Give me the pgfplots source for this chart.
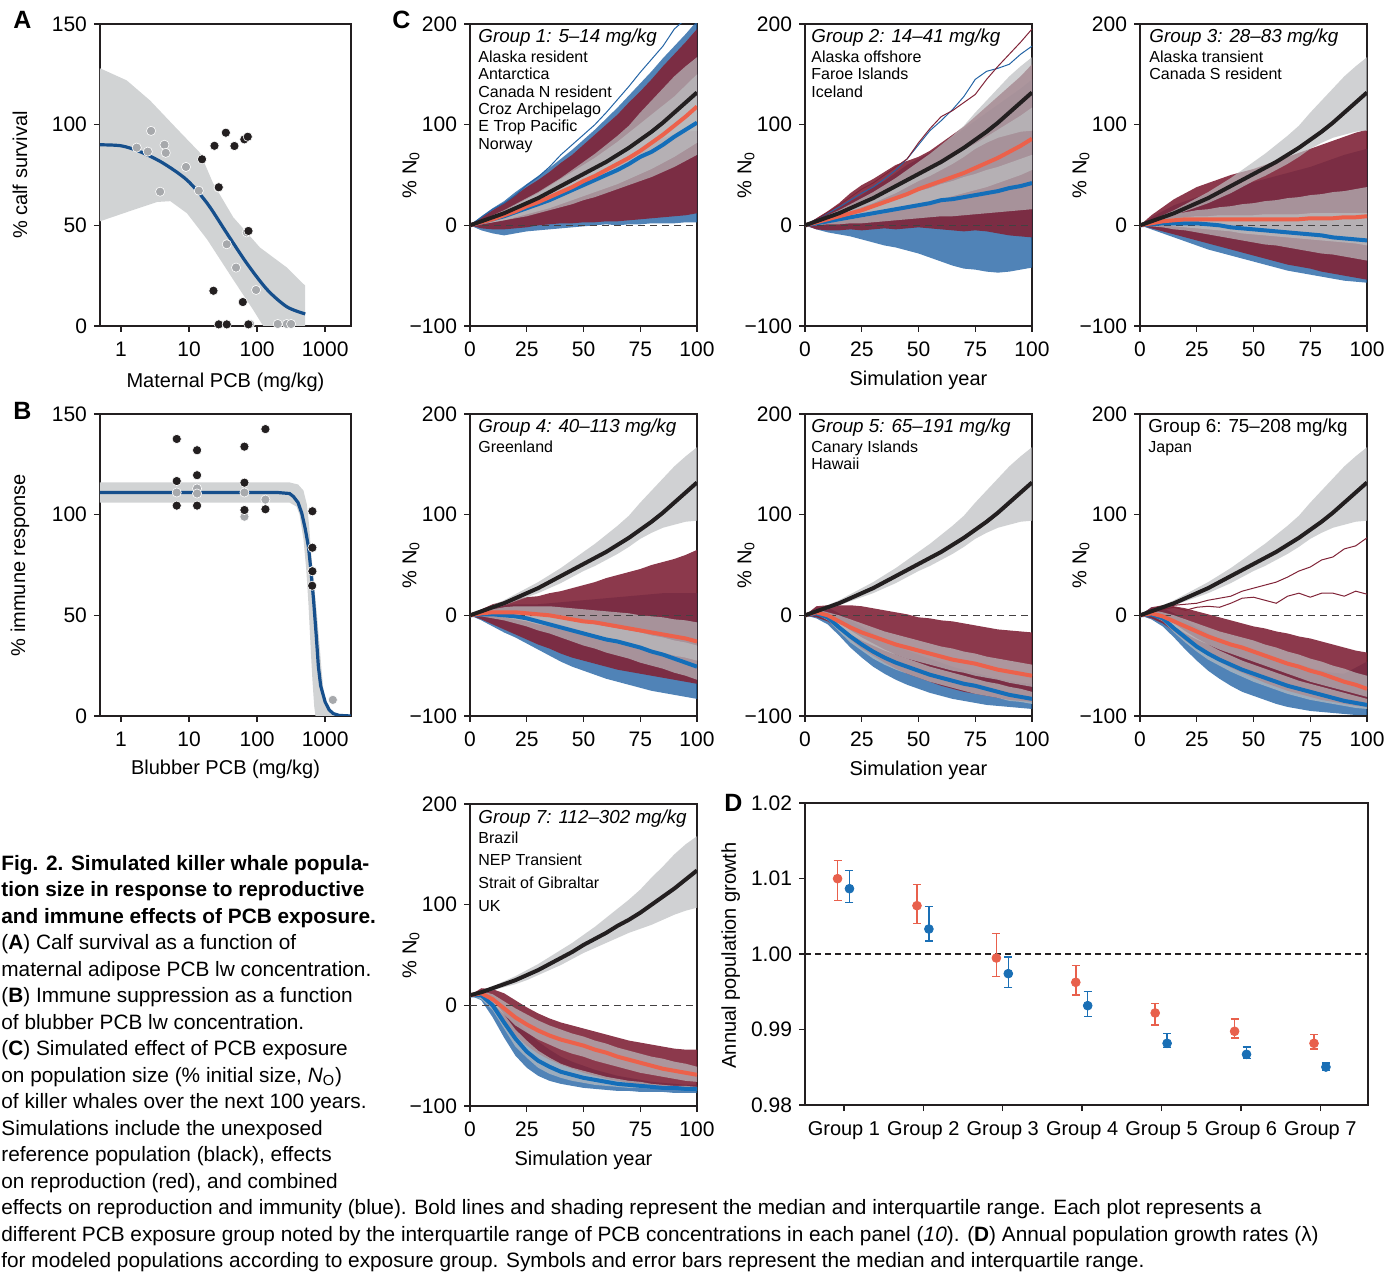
\documentclass[border=0pt]{standalone}
\usepackage{fontspec}
\setmainfont{Liberation Sans}
\usepackage{pgfplots}
\pgfplotsset{compat=1.18}
\usepackage{pgfplotstable}
\usepgfplotslibrary{fillbetween}

\definecolor{maroon}{RGB}{128,36,56}
\definecolor{thinblue}{RGB}{36,100,165}
\definecolor{medred}{RGB}{236,97,75}
\definecolor{medblue}{RGB}{20,110,185}
\definecolor{kblack}{RGB}{35,31,32}
\definecolor{bandgrey}{RGB}{209,211,212}
\definecolor{iqrgrey}{RGB}{188,190,192}
\definecolor{curveblue}{RGB}{22,79,140}
\definecolor{ptgrey}{RGB}{167,169,172}
\definecolor{dred}{RGB}{232,96,76}
\definecolor{dblue}{RGB}{26,111,181}

% reference (unexposed) population: median and IQR
\pgfplotstableread{
x km ku kl km7 ku7 kl7
0 0 0 0 10 10 10
5 4 5 3 13 14 12
10 8 10 6 17 19 15
15 12 15 10 21 24 18
20 17 21 14 25 29 21
25 22 27 18 30 35 25
30 27 33 22 35 41 30
35 33 40 27 41 48 35
40 39 47 32 47 55 40
45 45 55 38 53 62 46
50 51 63 44 60 70 52
55 57 71 49 66 78 57
60 63 80 55 72 87 62
65 70 89 61 79 96 67
70 77 99 68 85 105 72
75 85 112 76 92 115 76
80 93 124 82 100 127 80
85 102 136 87 108 138 85
90 112 148 90 116 150 90
95 122 158 93 125 160 94
100 132 167 94 134 168 97
}\refdata

\pgfplotstableread{
x bu bl ru rl biu bil riu ril bm rm oa
0 0 0 0 0 0 0 0 0 0 0 0
5 9 -5 8 -3 4 1 4 1 3 3 8
10 17 -8 15 -4 8 3 9 3 6 6 16
15 24 -10 22 -4 13 5 14 5 9 10 22
20 33 -8 30 -3 18 7 20 8 13 14 30
25 41 -6 38 -2 23 9 26 11 17 19 40
30 49 -5 45 0 29 12 32 14 21 23 48
35 57 -4 53 1 35 15 39 17 25 28 58
40 66 -3 62 2 41 18 46 21 30 33 70
45 75 -2 70 2 47 21 53 25 35 38 80
50 85 -1 80 3 53 25 60 29 40 44 90
55 95 0 90 3 59 28 67 33 45 49 100
60 106 1 100 4 66 32 75 37 50 55 112
65 117 0 110 4 73 36 83 41 55 61 125
70 129 1 122 5 80 40 92 46 61 67 138
75 141 1 133 6 88 44 101 51 68 74 152
80 153 2 145 7 96 48 110 56 73 82 165
85 166 2 158 8 104 53 119 62 80 90 178
90 178 2 170 9 113 58 128 68 88 99 195
95 190 3 182 10 122 64 139 75 95 108 205
100 203 3 195 12 132 70 150 82 102 118 210
}\gone

\pgfplotstableread{
x bu bl ru rl biu bil riu ril bm rm oa ob
0 0 0 0 0 0 0 0 0 0 0 0 0
5 6 -4 7 -4 3 0 4 1 2 3 6 6
10 12 -7 14 -5 7 1 9 3 4 6 12 13
15 18 -9 22 -5 10 1 13 4 6 9 18 20
20 24 -11 32 -4 14 2 18 6 8 12 25 28
25 30 -14 40 -5 17 2 23 8 10 15 32 36
30 38 -17 46 -4 20 3 28 10 12 19 38 42
35 44 -20 53 -3 24 4 33 12 14 23 46 50
40 52 -22 60 -4 27 5 39 15 16 27 55 58
45 60 -25 64 -3 30 6 45 17 18 31 66 66
50 66 -28 68 -2 34 7 51 20 20 36 80 82
55 72 -32 74 -3 37 8 57 23 22 40 94 96
60 80 -36 82 -4 41 9 63 26 25 44 104 108
65 88 -40 90 -5 44 9 69 29 26 48 115 114
70 96 -43 98 -6 48 10 75 32 28 52 128 122
75 104 -44 108 -5 51 11 81 35 30 57 145 130
80 112 -46 118 -6 55 12 88 38 32 62 153 145
85 120 -47 128 -8 58 13 95 42 34 67 156 158
90 128 -46 138 -10 62 14 102 46 37 73 160 170
95 136 -44 148 -11 66 15 109 50 39 79 170 182
100 145 -42 160 -12 70 16 117 55 42 86 178 195
}\gtwo

\pgfplotstableread{
x bu bl ru rl biu bil riu ril bm rm
0 0 0 0 0 0 0 0 0 0 0
5 8 -4 10 -3 3 -1 5 0 1 2
10 14 -8 18 -6 5 -2 8 0 2 4
15 20 -12 26 -9 7 -4 11 -1 2 5
20 24 -16 32 -12 8 -5 13 -2 2 6
25 28 -20 38 -15 9 -7 15 -3 2 6
30 31 -24 42 -18 9 -9 16 -4 1 6
35 34 -27 46 -21 10 -11 18 -5 0 6
40 37 -30 50 -24 10 -13 19 -6 -2 6
45 40 -33 53 -27 10 -15 21 -8 -3 6
50 43 -36 56 -30 10 -17 22 -9 -4 6
55 46 -39 60 -33 11 -19 24 -10 -5 6
60 49 -42 64 -36 11 -20 25 -11 -6 6
65 52 -45 68 -39 11 -22 27 -12 -7 6
70 55 -47 72 -41 11 -24 28 -13 -8 6
75 58 -49 76 -43 12 -26 30 -14 -9 7
80 62 -51 80 -46 12 -28 31 -15 -10 7
85 66 -53 84 -48 12 -29 33 -16 -12 7
90 70 -55 88 -50 12 -31 34 -17 -13 8
95 73 -56 92 -52 12 -33 36 -18 -14 8
100 76 -57 95 -54 12 -35 38 -20 -15 9
}\gthree

\pgfplotstableread{
x bu bl ru rl biu bil riu ril bm rm
0 0 0 0 0 0 0 0 0 0 0
5 5 -5 6 -4 2 -1 3 0 1 2
10 8 -11 11 -9 4 -3 6 0 1 3
15 10 -17 14 -14 4 -5 8 -2 0 3
20 11 -22 17 -19 4 -8 9 -4 -1 3
25 11 -28 18 -24 3 -11 9 -6 -3 2
30 11 -34 19 -29 1 -15 9 -9 -6 1
35 12 -40 22 -33 -1 -18 9 -11 -9 0
40 13 -46 24 -38 -3 -22 8 -14 -12 -2
45 14 -51 27 -42 -5 -26 7 -16 -15 -4
50 15 -55 30 -45 -7 -30 6 -19 -18 -6
55 16 -59 33 -48 -9 -33 5 -21 -21 -7
60 17 -63 37 -51 -11 -37 4 -24 -24 -9
65 18 -66 40 -54 -13 -40 3 -27 -26 -11
70 19 -69 43 -56 -15 -43 2 -30 -29 -13
75 20 -72 46 -58 -17 -47 0 -32 -32 -15
80 21 -75 50 -60 -20 -50 -1 -35 -36 -17
85 22 -77 53 -62 -22 -53 -2 -37 -39 -19
90 22 -79 56 -64 -25 -57 -4 -40 -43 -21
95 22 -81 60 -66 -27 -60 -5 -42 -47 -23
100 22 -83 65 -68 -30 -64 -7 -45 -51 -26
}\gfour

\pgfplotstableread{
x bu bl ru rl biu bil riu ril bm rm
0 0 0 0 0 0 0 0 0 0 0
5 8 -3 9 -2 4 1 6 1 2 3
10 8 -9 10 -6 1 -5 3 -3 -2 0
15 2 -20 10 -14 -7 -16 0 -11 -12 -6
20 -5 -32 10 -24 -15 -27 -4 -19 -21 -12
25 -11 -42 9 -33 -22 -35 -8 -25 -29 -17
30 -18 -51 7 -40 -28 -43 -12 -30 -36 -21
35 -24 -58 5 -47 -34 -49 -16 -35 -42 -25
40 -30 -64 3 -53 -39 -54 -19 -39 -47 -29
45 -35 -69 1 -58 -43 -58 -22 -43 -51 -32
50 -39 -73 -2 -62 -47 -62 -25 -46 -55 -35
55 -43 -77 -3 -66 -51 -66 -28 -49 -59 -38
60 -47 -80 -5 -70 -54 -69 -31 -52 -62 -41
65 -51 -83 -6 -73 -57 -72 -33 -55 -65 -44
70 -54 -85 -8 -76 -60 -75 -36 -57 -68 -46
75 -57 -87 -10 -78 -63 -78 -38 -60 -70 -48
80 -60 -89 -12 -80 -66 -80 -41 -62 -73 -51
85 -63 -90 -14 -82 -68 -82 -43 -64 -76 -54
90 -65 -91 -15 -84 -71 -85 -45 -67 -79 -56
95 -67 -92 -16 -85 -73 -86 -47 -69 -81 -58
100 -68 -93 -17 -86 -76 -88 -49 -71 -83 -60
}\gfive

\pgfplotstableread{
x bu bl ru rl biu bil riu ril bm rm oa ob
0 0 0 0 0 0 0 0 0 0 0 0 0
5 8 -4 8 -3 3 0 5 1 1 2 4 3
10 7 -11 10 -8 0 -6 3 -4 -3 -1 8 6
15 2 -22 9 -16 -8 -17 0 -11 -13 -6 10 8
20 -5 -34 7 -25 -16 -27 -4 -18 -22 -11 11 5
25 -12 -45 4 -33 -23 -36 -8 -24 -31 -16 12 8
30 -18 -55 1 -40 -29 -44 -12 -29 -38 -21 15 9
35 -24 -63 -2 -46 -35 -50 -16 -34 -44 -25 17 8
40 -29 -70 -5 -52 -40 -56 -19 -38 -49 -29 19 12
45 -33 -76 -8 -57 -45 -61 -22 -42 -54 -32 24 17
50 -37 -80 -11 -62 -49 -66 -25 -46 -58 -36 27 18
55 -40 -84 -13 -67 -53 -70 -29 -50 -62 -40 30 15
60 -43 -88 -16 -71 -57 -74 -32 -54 -66 -44 33 12
65 -46 -91 -18 -75 -61 -78 -36 -58 -70 -48 38 19
70 -49 -93 -21 -78 -65 -81 -39 -62 -73 -51 44 22
75 -52 -95 -23 -81 -68 -84 -43 -66 -76 -55 48 18
80 -55 -96 -26 -84 -71 -86 -46 -69 -79 -58 55 22
85 -57 -97 -29 -86 -74 -88 -50 -72 -82 -62 58 22
90 -58 -98 -32 -88 -77 -90 -53 -75 -85 -66 66 19
95 -52 -99 -35 -90 -80 -92 -57 -78 -87 -69 69 24
100 -46 -99 -37 -91 -83 -93 -60 -81 -89 -73 77 21
}\gsix

\pgfplotstableread{
x bu bl ru rl biu bil riu ril bm rm
0 10 10 10 10 10 10 10 10 10 10
5 15 5 17 8 12 6 14 8 10 12
10 10 -12 16 -3 6 -5 11 2 0 6
15 -2 -32 12 -18 -9 -23 4 -9 -17 -3
20 -14 -50 5 -30 -24 -41 -3 -20 -33 -12
25 -26 -62 -2 -40 -35 -52 -9 -27 -46 -19
30 -36 -70 -8 -48 -45 -62 -15 -34 -55 -25
35 -44 -75 -13 -54 -52 -68 -20 -39 -61 -30
40 -51 -78 -17 -59 -58 -72 -24 -44 -66 -34
45 -56 -80 -20 -63 -62 -75 -28 -48 -69 -37
50 -60 -82 -23 -67 -65 -77 -31 -51 -72 -40
55 -64 -83 -26 -70 -68 -79 -35 -55 -74 -44
60 -67 -84 -29 -73 -71 -80 -38 -58 -76 -47
65 -70 -85 -32 -75 -73 -81 -42 -61 -78 -51
70 -72 -85 -35 -77 -75 -82 -45 -64 -79 -54
75 -74 -86 -37 -79 -76 -82 -48 -67 -80 -57
80 -76 -86 -39 -80 -78 -83 -51 -69 -81 -60
85 -77 -86 -41 -82 -79 -83 -53 -71 -82 -63
90 -78 -87 -43 -83 -80 -84 -56 -73 -82 -65
95 -79 -87 -44 -84 -80 -84 -58 -75 -83 -67
100 -79 -87 -44 -84 -81 -85 -61 -76 -83 -69
}\gseven

% #1 table, #2-#4 reference columns, #5 extra single trajectories
\newcommand{\drawbundle}[5]{%
 \addplot[draw=none,name path=bu] table[x=x,y=bu]{#1};
 \addplot[draw=none,name path=bl] table[x=x,y=bl]{#1};
 \addplot[fill=thinblue,fill opacity=0.8,draw=none] fill between[of=bu and bl];
 \addplot[draw=none,name path=ru] table[x=x,y=ru]{#1};
 \addplot[draw=none,name path=rl] table[x=x,y=rl]{#1};
 \addplot[fill=maroon,fill opacity=0.9,draw=none] fill between[of=ru and rl];
 #5
 \addplot[draw=none,name path=biu] table[x=x,y=biu]{#1};
 \addplot[draw=none,name path=bil] table[x=x,y=bil]{#1};
 \addplot[fill=iqrgrey,fill opacity=0.7,draw=none] fill between[of=biu and bil];
 \addplot[draw=none,name path=riu] table[x=x,y=riu]{#1};
 \addplot[draw=none,name path=ril] table[x=x,y=ril]{#1};
 \addplot[fill=iqrgrey,fill opacity=0.7,draw=none] fill between[of=riu and ril];
 \addplot[draw=none,name path=ku] table[x=x,y=#3]{\refdata};
 \addplot[draw=none,name path=kl] table[x=x,y=#4]{\refdata};
 \addplot[fill=iqrgrey,fill opacity=0.7,draw=none] fill between[of=ku and kl];
 \addplot[kblack!85,line width=0.6pt,dash pattern=on 3.5pt off 2.5pt] coordinates {(0,0) (100,0)};
 \addplot[medblue,line width=2pt] table[x=x,y=bm]{#1};
 \addplot[medred,line width=2pt] table[x=x,y=rm]{#1};
 \addplot[kblack,line width=2pt] table[x=x,y=#2]{\refdata};
}

\pgfplotsset{
 every axis/.append style={
  scale only axis,
  axis line style={line width=0.65pt,kblack},
  every tick/.style={line width=0.65pt,kblack},
  major tick length=3pt,
  tick align=outside,
  xtick pos=bottom, ytick pos=left,
  tick label style={font=\fontsize{10.5}{12}\selectfont},
  xticklabel style={yshift=-1.5pt},
  label style={font=\fontsize{10}{12}\selectfont},
 },
 cpanel/.style={
  width=113.5pt, height=151pt,
  xmin=0, xmax=100, ymin=-100, ymax=200,
  xtick={0,25,50,75,100}, xticklabels={0,25,50,75,100},
  ytick={-100,0,100,200}, yticklabels={−100,0,100,200},
  ylabel={\% N\textsubscript{0}},
  ylabel style={at={(axis description cs:-0.26,0.5)},anchor=center},
  xlabel style={at={(axis description cs:0.5,-0.197)},anchor=base},
 },
}

\newcommand{\titlefont}{\fontsize{9.4}{11}\selectfont\itshape}
\newcommand{\locfont}{\fontsize{8}{9.6}\selectfont}
\newcommand{\capfont}{\fontsize{10.4}{12}\selectfont}
\newcommand{\letfont}{\fontsize{12.5}{14}\selectfont\bfseries}

\begin{document}
\begin{tikzpicture}

% ---------------- A ----------------
\begin{axis}[at={(50pt,-12pt)}, anchor=north west, width=125.5pt, height=151pt,
  xmode=log, xmin=0.49, xmax=2400, ymin=0, ymax=150,
  xtick={1,10,100,1000}, xticklabels={1,10,100,1000}, xminorticks=false,
  ytick={0,50,100,150}, yticklabels={0,50,100,150},
  xlabel={Maternal PCB (mg/kg)}, ylabel={\% calf survival},
  ylabel style={at={(axis description cs:-0.319,0.5)},anchor=center},
  xlabel style={at={(axis description cs:0.5,-0.205)},anchor=base}]
\addplot[fill=bandgrey,draw=none] coordinates {(0.49,128) (1.21,122) (2.67,112) (6.6,98) (14.5,86) (22.5,71) (44.6,54) (110,39) (275,29) (510,20) (510,0) (123,0) (87.6,8) (44.6,23) (18.4,43) (9.3,56) (5.3,62) (3.4,61.6) (1.5,57.6) (0.49,52)};
\addplot[only marks, mark=*, mark size=2.3pt, color=ptgrey, mark options={draw=white,line width=0.3pt}] coordinates {
(1.70,88.6) (2.76,96.9) (2.47,86.6) (3.75,66.7) (4.34,90) (4.54,86) (9.0,79) (13.9,67.2) (27,68.7) (35.8,40.6) (49,29) (70.4,46.5) (96.6,17.9) (201,1) (273,1) (316,1) (79,1)};
\addplot[curveblue, line width=1.6pt, smooth] coordinates {(0.49,90) (1,89.5) (1.9,86.6) (4.1,81) (9.3,72.5) (18.4,61) (36,46) (71,31) (141,18) (275,9.5) (510,6)};
\addplot[only marks, mark=*, mark size=2.3pt, color=kblack, mark options={draw=white,line width=0.3pt}] coordinates {
(23.6,89.5) (34.7,96) (46.4,89.4) (64.9,92.7) (72.9,94) (15.5,82.8) (27.3,68.9) (74.6,47.2) (22.8,17.5) (61.6,11.9) (27.3,0.8) (35.8,0.8) (74.6,0.8)};
\end{axis}

% ---------------- B ----------------
\begin{axis}[at={(50pt,-207pt)}, anchor=north west, width=125.5pt, height=151pt,
  xmode=log, xmin=0.49, xmax=2400, ymin=0, ymax=150,
  xtick={1,10,100,1000}, xticklabels={1,10,100,1000}, xminorticks=false,
  ytick={0,50,100,150}, yticklabels={0,50,100,150},
  xlabel={Blubber PCB (mg/kg)}, ylabel={\% immune response},
  ylabel style={at={(axis description cs:-0.319,0.5)},anchor=center},
  xlabel style={at={(axis description cs:0.5,-0.195)},anchor=base}]
\addplot[fill=bandgrey,draw=none] coordinates {(0.49,116) (300,116) (400,115) (480,112) (540,105) (580,95) (620,82) (680,67) (760,50) (830,35) (890,22) (950,12) (1050,5) (1300,1.5) (2400,0) (720,0) (690,5) (650,18) (610,35) (570,55) (530,72) (480,88) (420,100) (380,104) (300,106) (0.49,106)};
\addplot[only marks, mark=*, mark size=2.3pt, color=ptgrey, mark options={draw=white,line width=0.3pt}] coordinates {
(6.58,111) (13.1,113) (13.1,110.5) (65.1,111) (65.1,99) (132.5,107.5) (650,72) (1297,8)};
\addplot[curveblue, line width=1.6pt] coordinates {(0.49,111) (10,111) (100,111) (200,111) (300,110.5) (342,109) (400,106) (454,100.7) (510,93) (569,84) (620,72) (676,57.6) (740,40) (796,24.5) (860,15) (1000,7) (1150,3) (1320,1.2) (1600,0.3) (2400,0)};
\addplot[only marks, mark=*, mark size=2.3pt, color=kblack, mark options={draw=white,line width=0.3pt}] coordinates {
(6.58,137.6) (6.58,116.7) (6.58,104.5) (13.1,132) (13.1,119.6) (13.1,104.5) (65.1,133.8) (65.1,115.9) (65.1,102.3) (132.5,142.5) (132.5,102.7) (650,101.7) (650,83.6) (650,71.9) (645,64.7)};
\end{axis}

% ---------------- C panels ----------------
\begin{axis}[cpanel, at={(235pt,-12pt)}, anchor=north west]
\drawbundle{\gone}{km}{ku}{kl}{\addplot[thinblue, line width=0.5pt] table[x=x,y=oa]{\gone};}
\end{axis}
\begin{axis}[cpanel, at={(402.5pt,-12pt)}, anchor=north west, xlabel={Simulation year}]
\drawbundle{\gtwo}{km}{ku}{kl}{\addplot[thinblue, line width=0.5pt] table[x=x,y=oa]{\gtwo}; \addplot[maroon, line width=0.5pt] table[x=x,y=ob]{\gtwo};}
\end{axis}
\begin{axis}[cpanel, at={(570pt,-12pt)}, anchor=north west]
\drawbundle{\gthree}{km}{ku}{kl}{}
\end{axis}
\begin{axis}[cpanel, at={(235pt,-207pt)}, anchor=north west]
\drawbundle{\gfour}{km}{ku}{kl}{}
\end{axis}
\begin{axis}[cpanel, at={(402.5pt,-207pt)}, anchor=north west, xlabel={Simulation year}]
\drawbundle{\gfive}{km}{ku}{kl}{}
\end{axis}
\begin{axis}[cpanel, at={(570pt,-207pt)}, anchor=north west]
\drawbundle{\gsix}{km}{ku}{kl}{\addplot[maroon, line width=0.5pt] table[x=x,y=oa]{\gsix}; \addplot[maroon, line width=0.5pt] table[x=x,y=ob]{\gsix};}
\end{axis}
\begin{axis}[cpanel, at={(235pt,-402pt)}, anchor=north west, xlabel={Simulation year}]
\drawbundle{\gseven}{km7}{ku7}{kl7}{}
\end{axis}

% ---------------- D ----------------
\begin{axis}[at={(402.5pt,-401.5pt)}, anchor=north west, width=281.5pt, height=151pt,
  xmin=0.51, xmax=7.6, ymin=0.98, ymax=1.02,
  xtick={1,2,3,4,5,6,7}, xticklabels={Group 1,Group 2,Group 3,Group 4,Group 5,Group 6,Group 7},
  ytick={0.98,0.99,1.00,1.01,1.02}, yticklabels={0.98,0.99,1.00,1.01,1.02},
  x tick label style={font=\fontsize{10}{12}\selectfont},
  ylabel={Annual population growth},
  ylabel style={at={(axis description cs:-0.132,0.495)},anchor=center}]
\addplot[kblack, line width=0.6pt, dash pattern=on 3pt off 2pt] coordinates {(0.51,1) (7.6,1)};
\addplot[dred, only marks, mark=*, mark size=2.2pt,
  error bars/.cd, y dir=both, y explicit,
  error bar style={line width=0.75pt, dred},
  error mark options={rotate=90, line width=0.75pt, mark size=2pt, dred}]
  coordinates {
  (0.92,1.00998) += (0,0.00243) -= (0,0.00292)
  (1.92,1.0064) += (0,0.00283) -= (0,0.00234)
  (2.92,0.99947) += (0,0.00327) -= (0,0.00247)
  (3.92,0.99625) += (0,0.00225) -= (0,0.00168)
  (4.92,0.99219) += (0,0.00128) -= (0,0.00159)
  (5.92,0.98976) += (0,0.00163) -= (0,0.00089)
  (6.92,0.98817) += (0,0.00115) -= (0,0.00075)
  };
\addplot[dblue, only marks, mark=*, mark size=2.2pt,
  error bars/.cd, y dir=both, y explicit,
  error bar style={line width=0.75pt, dblue},
  error mark options={rotate=90, line width=0.75pt, mark size=2pt, dblue}]
  coordinates {
  (1.07,1.00865) += (0,0.00243) -= (0,0.00185)
  (2.07,1.00331) += (0,0.003) -= (0,0.00159)
  (3.07,0.9974) += (0,0.0022) -= (0,0.00182)
  (4.07,0.99316) += (0,0.00185) -= (0,0.00146)
  (5.07,0.98817) += (0,0.00128) -= (0,0.00057)
  (6.07,0.98671) += (0,0.00097) -= (0,0.00053)
  (7.07,0.98503) += (0,0.00053) -= (0,0.00048)
  };
\end{axis}

% ---------------- texts (pixel coordinates) ----------------
\begin{scope}[x=0.5pt,y=-0.5pt]
\node[anchor=base west,inner sep=0pt,font=\letfont] at (13,29) {A};
\node[anchor=base west,inner sep=0pt,font=\letfont] at (13,420) {B};
\node[anchor=base west,inner sep=0pt,font=\letfont] at (392,29) {C};
\node[anchor=base west,inner sep=0pt,font=\letfont] at (724,811) {D};

% group labels
\node[anchor=base west,inner sep=0pt,font=\titlefont] at (478,42.5) {Group 1: 5–14 mg/kg};
\foreach \t [count=\i from 0] in {Alaska resident,Antarctica,Canada N resident,Croz Archipelago,E Trop Pacific,Norway}
  \node[anchor=base west,inner sep=0pt,font=\locfont] at (478,62.7+17.3*\i) {\t};
\node[anchor=base west,inner sep=0pt,font=\titlefont] at (811,42.5) {Group 2: 14–41 mg/kg};
\foreach \t [count=\i from 0] in {Alaska offshore,Faroe Islands,Iceland}
  \node[anchor=base west,inner sep=0pt,font=\locfont] at (811,62.7+17.3*\i) {\t};
\node[anchor=base west,inner sep=0pt,font=\titlefont] at (1149,42.5) {Group 3: 28–83 mg/kg};
\foreach \t [count=\i from 0] in {Alaska transient,Canada S resident}
  \node[anchor=base west,inner sep=0pt,font=\locfont] at (1149,62.7+17.3*\i) {\t};
\node[anchor=base west,inner sep=0pt,font=\titlefont] at (478,432.5) {Group 4: 40–113 mg/kg};
\node[anchor=base west,inner sep=0pt,font=\locfont] at (478,452.7) {Greenland};
\node[anchor=base west,inner sep=0pt,font=\titlefont] at (811,432.5) {Group 5: 65–191 mg/kg};
\foreach \t [count=\i from 0] in {Canary Islands,Hawaii}
  \node[anchor=base west,inner sep=0pt,font=\locfont] at (811,452.7+17.3*\i) {\t};
\node[anchor=base west,inner sep=0pt,font=\fontsize{9.4}{11}\selectfont] at (1148,432.5) {Group 6: 75–208 mg/kg};
\node[anchor=base west,inner sep=0pt,font=\locfont] at (1148,452.7) {Japan};
\node[anchor=base west,inner sep=0pt,font=\titlefont] at (478,823.3) {Group 7: 112–302 mg/kg};
\foreach \t [count=\i from 0] in {Brazil,NEP Transient,Strait of Gibraltar,UK}
  \node[anchor=base west,inner sep=0pt,font=\locfont] at (478,843.3+22.6*\i) {\t};

% caption
\node[anchor=base west,inner sep=0pt,font=\capfont\bfseries] at (1,870) {Fig. 2. Simulated killer whale popula-};
\node[anchor=base west,inner sep=0pt,font=\capfont\bfseries] at (1,896.5) {tion size in response to reproductive};
\node[anchor=base west,inner sep=0pt,font=\capfont\bfseries] at (1,923) {and immune effects of PCB exposure.};
\node[anchor=base west,inner sep=0pt,font=\capfont] at (1,949.5) {(\textbf{A}) Calf survival as a function of};
\node[anchor=base west,inner sep=0pt,font=\capfont] at (1,976) {maternal adipose PCB lw concentration.};
\node[anchor=base west,inner sep=0pt,font=\capfont] at (1,1002.5) {(\textbf{B}) Immune suppression as a function};
\node[anchor=base west,inner sep=0pt,font=\capfont] at (1,1029) {of blubber PCB lw concentration.};
\node[anchor=base west,inner sep=0pt,font=\capfont] at (1,1055.5) {(\textbf{C}) Simulated effect of PCB exposure};
\node[anchor=base west,inner sep=0pt,font=\capfont] at (1,1082) {on population size (\% initial size, \textit{N}\textsubscript{O})};
\node[anchor=base west,inner sep=0pt,font=\capfont] at (1,1108.5) {of killer whales over the next 100 years.};
\node[anchor=base west,inner sep=0pt,font=\capfont] at (1,1135) {Simulations include the unexposed};
\node[anchor=base west,inner sep=0pt,font=\capfont] at (1,1161.5) {reference population (black), effects};
\node[anchor=base west,inner sep=0pt,font=\capfont] at (1,1188) {on reproduction (red), and combined};
\node[anchor=base west,inner sep=0pt,font=\capfont] at (1,1214.5) {effects on reproduction and immunity (blue). Bold lines and shading represent the median and interquartile range. Each plot represents a};
\node[anchor=base west,inner sep=0pt,font=\capfont] at (1,1241) {different PCB exposure group noted by the interquartile range of PCB concentrations in each panel (\textit{10}). (\textbf{D}) Annual population growth rates (λ)};
\node[anchor=base west,inner sep=0pt,font=\capfont] at (1,1267.5) {for modeled populations according to exposure group. Symbols and error bars represent the median and interquartile range.};
\end{scope}

\pgfresetboundingbox
\path[use as bounding box] (0,0) rectangle (698pt,-636pt);
\end{tikzpicture}
\end{document}
